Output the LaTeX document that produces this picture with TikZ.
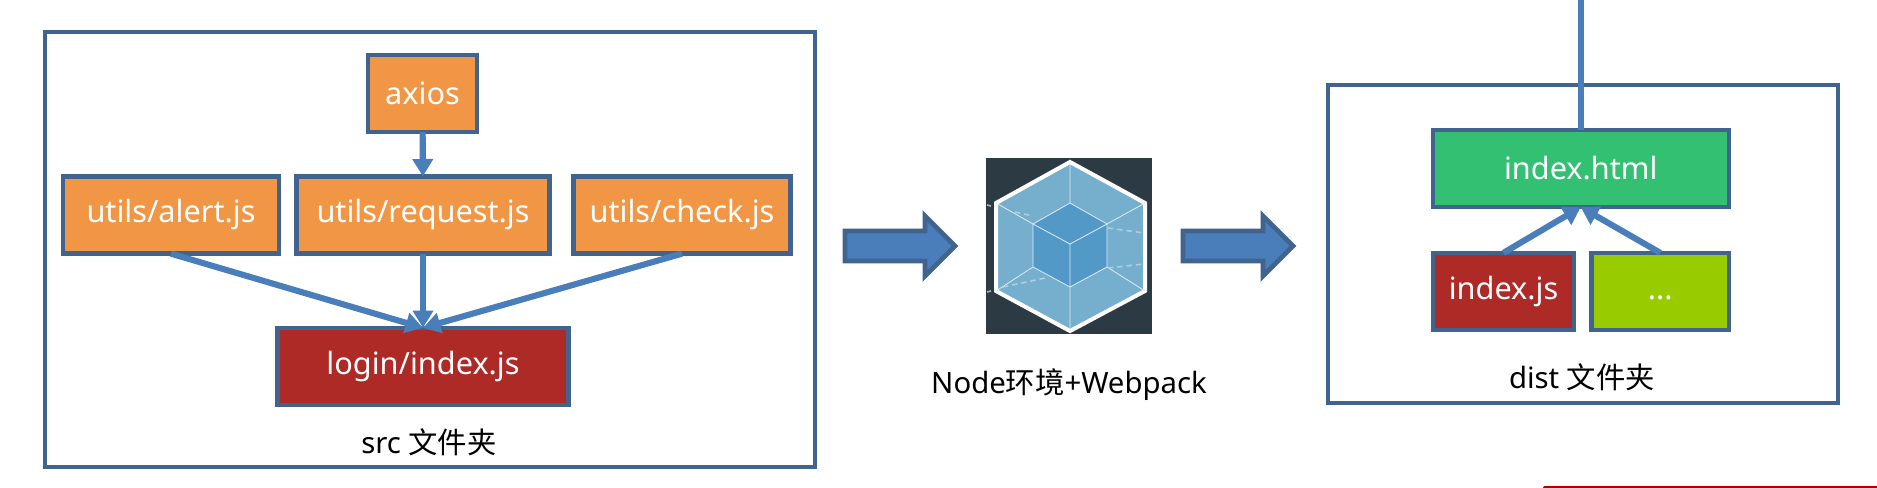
\documentclass[tikz,border=0pt]{standalone}
\usepackage{fontspec}
\setmainfont{Noto Sans}
\newfontfamily\cjk{Noto Sans CJK SC}
\usetikzlibrary{arrows.meta}
\definecolor{frame}{HTML}{41648F}
\definecolor{link}{HTML}{4A7EBB}
\definecolor{orangebox}{HTML}{F19645}
\definecolor{redbox}{HTML}{AE2A26}
\definecolor{greenbox}{HTML}{33C072}
\definecolor{limebox}{HTML}{99CC00}
\definecolor{iconbg}{HTML}{2C3A44}
\definecolor{iconface}{HTML}{75AFCD}
\definecolor{iconcube}{HTML}{5399C8}
\tikzset{
  folder/.style={draw=frame,line width=3pt,outer sep=0pt,inner sep=0pt},
  filebox/.style={draw=frame,line width=3.4pt,outer sep=0pt,inner sep=0pt,text=white,
    minimum height=58pt,font=\fontsize{23}{27}\selectfont},
  caption/.style={inner sep=0pt,text=black,font=\fontsize{22}{26}\selectfont},
  flow/.style={draw=link,line width=4.6pt,-{Triangle[length=13pt,width=15pt]}},
  bigarrow/.style={draw=frame,fill=link,line width=3.6pt,miter limit=10},
}
\begin{document}
\begin{tikzpicture}[x=0.75pt,y=-0.75pt]
\useasboundingbox (0,0) rectangle (1877,488);

\node[folder,minimum width=577.5pt,minimum height=325.5pt] (src) at (429.75,249.5) {};
\node[folder,minimum width=382pt,minimum height=238pt] (dist) at (1583,244) {};

\node[filebox,fill=orangebox,minimum width=82pt] (axios) at (422.5,93.5) {axios};
\node[filebox,fill=orangebox,minimum width=162pt] (alert) at (171,215) {utils/alert.js};
\node[filebox,fill=orangebox,minimum width=189.5pt] (request) at (423,215) {utils/request.js};
\node[filebox,fill=orangebox,minimum width=162.5pt] (check) at (682,215) {utils/check.js};
\node[filebox,fill=redbox,minimum width=218pt] (login) at (423,366.5) {login/index.js};
\node[caption] (srclabel) at (429,442) {src {\cjk 文件夹}};

\node[filebox,fill=greenbox,minimum width=222pt] (html) at (1580.75,168.5) {index.html};
\node[filebox,fill=redbox,minimum width=106pt] (js) at (1503.5,291.5) {index.js};
\node[filebox,fill=limebox,minimum width=103pt] (dots) at (1660.25,291.5) {...\vphantom{index.js}};
\node[caption] (distlabel) at (1582,377) {dist {\cjk 文件夹}};
\coordinate (exit) at (1580.75,0);

\draw[flow] (axios) -- (request);
\draw[flow] (alert.south) -- (login.north);
\draw[flow] (request) -- (login);
\draw[flow] (check.south) -- (login.north);
\draw[flow] (js.north) -- (html.south);
\draw[flow] (dots.north) -- (html.south);
\draw[draw=link,line width=4.6pt] (html.north) -- (exit);

\foreach \ax in {0,338}
  \draw[bigarrow,xshift=\ax*0.75pt] (845,231) -- (925,231) -- (925,216) -- (955,246) -- (925,276) -- (925,261) -- (845,261) -- cycle;

% webpack icon
\fill[iconbg] (986,158) rectangle (1152,334);
\draw[white,line width=3pt,fill=iconface] (1070,162) -- (1145,203) -- (1145,291) -- (1070,331) -- (996,291) -- (996,203) -- cycle;
\fill[iconcube] (1070,203) -- (1107,224) -- (1107,267) -- (1070,287) -- (1033,267) -- (1033,224) -- cycle;
\draw[white!75!iconface,line width=0.6pt] (1070,162) -- (1070,203) (1145,203) -- (1107,224) (1145,291) -- (1107,267) (1070,331) -- (1070,287) (996,291) -- (1033,267) (996,203) -- (1033,224);
\draw[white!75!iconface,line width=0.6pt] (1070,203) -- (1107,224) -- (1107,267) -- (1070,287) -- (1033,267) -- (1033,224) -- cycle;
\draw[white!75!iconface,line width=0.6pt] (1033,224) -- (1070,244) -- (1107,224) (1070,244) -- (1070,287);
\draw[white!40!iconface,line width=1.2pt,dash pattern=on 4pt off 3pt] (1015,212) -- (1033,216) (1108,228) -- (1144,233) (1108,268) -- (1144,264) (1003,287) -- (1045,278);
\draw[white!60!iconbg,line width=1.2pt] (987,205) -- (991,206) (987,292) -- (991,291);
\node[caption] (webpacklabel) at (1069,385) {Node{\cjk 环境}+Webpack};

\fill[red!70!black,rounded corners=1.5pt] (1543,490) -- (1543,486) -- (1880,486) -- (1880,490) -- cycle;
\end{tikzpicture}
\end{document}
